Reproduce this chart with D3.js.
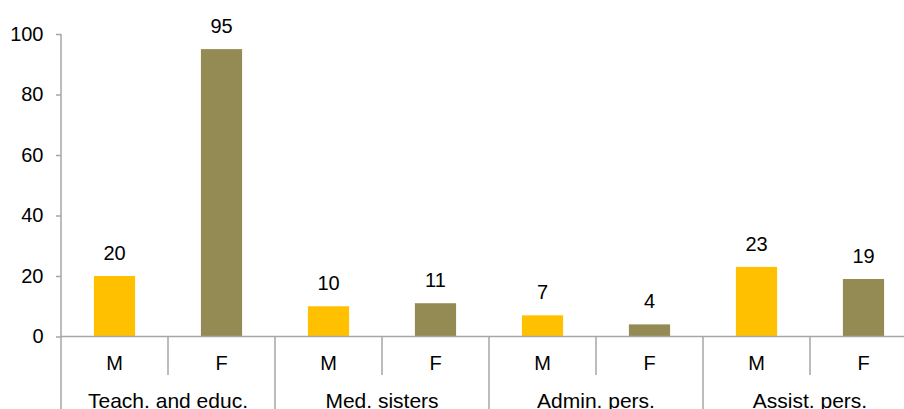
<!DOCTYPE html>
<html><head><meta charset="utf-8">
<script src="https://cdn.jsdelivr.net/npm/d3@7"></script>
<style>html,body{margin:0;padding:0;background:#fff;overflow:hidden}</style>
</head><body><svg id="c" width="904" height="409"></svg>
<script>
const categories = ["Teach. and educ.", "Med. sisters", "Admin. pers.", "Assist. pers."];
const genders = ["M", "F"];
const maleValues = [20, 10, 7, 23];
const femaleValues = [95, 11, 4, 19];
const yTicks = [0, 20, 40, 60, 80, 100];
const colors = {M: "#FFC000", F: "#948A54"};

const svg = d3.select("#c");
const font = "Liberation Sans, Arial, sans-serif";
const axisColor = "#A6A6A6";
const plotLeft = 61, plotRight = 917, plotTop = 34, zeroY = 336.5;

const y = d3.scaleLinear().domain([0, 100]).range([zeroY, plotTop]);
const xCat = d3.scaleBand().domain(categories).range([plotLeft, plotRight]).padding(0);
const xSub = d3.scaleBand().domain(genders).range([0, xCat.bandwidth()]).padding(0);
const barW = xSub.bandwidth() * 0.385;

const data = [];
categories.forEach((c, i) => {
  data.push({cat: c, g: "M", v: maleValues[i]});
  data.push({cat: c, g: "F", v: femaleValues[i]});
});

// y axis
const yAxis = d3.axisLeft(y).tickValues(yTicks).tickSize(5).tickSizeOuter(0).tickPadding(12.5);
const ya = svg.append("g").attr("transform", `translate(${plotLeft},0)`).call(yAxis);
ya.select(".domain").remove();
ya.selectAll(".tick line").attr("stroke", axisColor).attr("stroke-width", 1.5);
ya.selectAll(".tick text").attr("font-family", font).attr("font-size", 20).attr("fill", "#000");
svg.append("line").attr("x1", plotLeft).attr("x2", plotLeft).attr("y1", y(100)).attr("y2", 409)
  .attr("stroke", axisColor).attr("stroke-width", 1.5);

// bars
svg.append("g").selectAll("rect").data(data).join("rect")
  .attr("x", d => xCat(d.cat) + xSub(d.g) + (xSub.bandwidth() - barW) / 2)
  .attr("width", barW)
  .attr("y", d => y(d.v))
  .attr("height", d => y(0) - y(d.v))
  .attr("fill", d => colors[d.g]);

// value labels
svg.append("g").selectAll("text").data(data).join("text")
  .attr("x", d => xCat(d.cat) + xSub(d.g) + xSub.bandwidth() / 2)
  .attr("y", d => y(d.v) - 16)
  .attr("text-anchor", "middle")
  .attr("font-family", font).attr("font-size", 20).attr("fill", "#000")
  .text(d => d.v);

// x axis line
svg.append("line").attr("x1", plotLeft).attr("x2", 904).attr("y1", zeroY).attr("y2", zeroY)
  .attr("stroke", axisColor).attr("stroke-width", 1.5);

// dividers and labels
categories.forEach((c, i) => {
  const x0 = xCat(c);
  svg.append("line").attr("x1", x0 + xSub("F")).attr("x2", x0 + xSub("F"))
    .attr("y1", zeroY).attr("y2", 375).attr("stroke", axisColor).attr("stroke-width", 1.5);
  svg.append("line").attr("x1", x0 + xCat.bandwidth()).attr("x2", x0 + xCat.bandwidth())
    .attr("y1", zeroY).attr("y2", 409).attr("stroke", axisColor).attr("stroke-width", 1.5);
  genders.forEach(g => {
    svg.append("text").attr("x", x0 + xSub(g) + xSub.bandwidth() / 2).attr("y", 369.5)
      .attr("text-anchor", "middle").attr("font-family", font).attr("font-size", 20).attr("fill", "#000")
      .text(g);
  });
  svg.append("text").attr("x", x0 + xCat.bandwidth() / 2).attr("y", 408)
    .attr("text-anchor", "middle").attr("font-family", font).attr("font-size", 21).attr("fill", "#000")
    .text(c);
});
</script></body></html>
